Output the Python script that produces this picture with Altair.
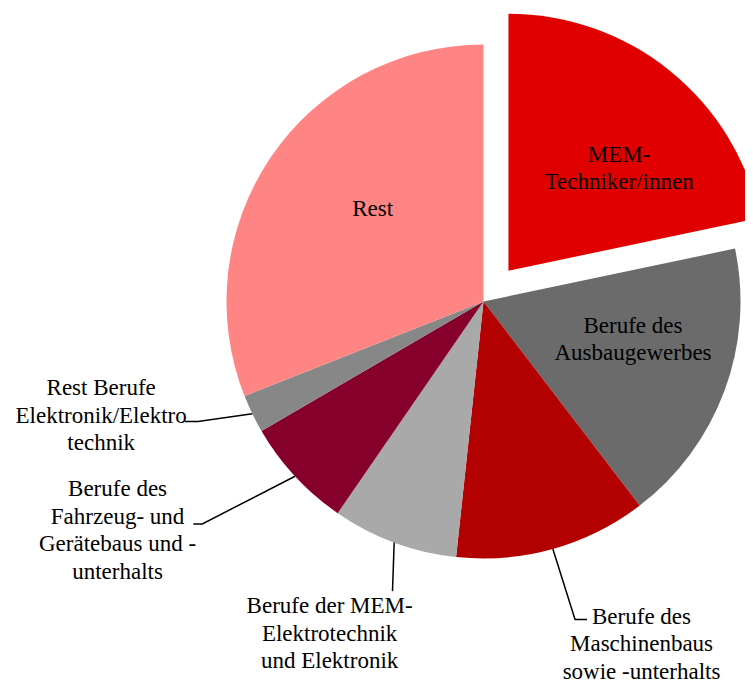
import altair as alt
import numpy as np
import pandas as pd

# ---- data -------------------------------------------------------------
categories = [
    "MEM-Techniker/innen",
    "Berufe des Ausbaugewerbes",
    "Berufe des Maschinenbaus sowie -unterhalts",
    "Berufe der MEM-Elektrotechnik und Elektronik",
    "Berufe des Fahrzeug- und Gerätebaus und -unterhalts",
    "Rest Berufe Elektronik/Elektrotechnik",
    "Rest",
]
label_texts = [
    "MEM-\nTechniker/innen",
    "Berufe des\nAusbaugewerbes",
    "Berufe des\nMaschinenbaus\nsowie -unterhalts",
    "Berufe der MEM-\nElektrotechnik\nund Elektronik",
    "Berufe des\nFahrzeug- und\nGerätebaus und -\nunterhalts",
    "Rest Berufe\nElektronik/Elektro\ntechnik",
    "Rest",
]
shares = [21.7, 17.9, 12.1, 7.9, 7.0, 2.4, 31.0]
colors = ["#E00000", "#6B6B6B", "#B30000", "#A9A9A9", "#85002B", "#878787", "#FF8585"]
exploded = [True, False, False, False, False, False, False]

# ---- layout (label placement, polar, relative to the slice's centre) --
label_angle_shift = [8.2, -6.0, -9.1, 4.5, 10.8, 9.3, 5.7]      # degrees from slice mid
label_radius = [150.7, 154.3, 377.3, 366.3, 431.7, 399.0, 144.5]
has_leader = [False, False, True, True, True, True, False]
leader_angle_shift = [0, 0, -0.4, -2.9, 4.5, 3.1, 0]
leader_radius = [0, 0, 330.9, 303.6, 358.5, 309.7, 0]
leader_tail = [0, 0, 12, 0, -9, -13, 0]

W, H = 737, 675
CX, CY = 475.5, 293.5
R = 257
EXPLODE = 39.6
FONT = "Liberation Serif"
FS = 23
LH = 27.5

df = pd.DataFrame({"category": categories, "share": shares, "exploded": exploded})
df["end"] = df["share"].cumsum()
df["start"] = df["end"] - df["share"]
df["mid_deg"] = (df["start"] + df["end"]) / 2 * 3.6


def polar(cx, cy, ang_deg, r):
    a = np.deg2rad(ang_deg)
    return cx + r * np.sin(a), cy - r * np.cos(a)


# centre of each slice (exploded slices pushed out along their mid angle)
centres = [
    polar(CX, CY, m, EXPLODE) if e else (CX, CY)
    for m, e in zip(df["mid_deg"], df["exploded"])
]

theta_scale = alt.Scale(domain=[0, 100], range=[0, 2 * np.pi])
color_scale = alt.Scale(domain=categories, range=colors)

layers = []
for i, (cx, cy) in enumerate(centres):
    sub = df.iloc[[i]]
    layers.append(
        alt.Chart(sub)
        .mark_arc(outerRadius=R)
        .encode(
            theta=alt.Theta("start:Q", scale=theta_scale, stack=None),
            theta2="end:Q",
            color=alt.Color("category:N", scale=color_scale, legend=None),
            x=alt.value(float(cx)),
            y=alt.value(float(cy)),
        )
    )

# labels (block centred on its anchor point)
lab_rows = []
for i in range(len(categories)):
    cx, cy = centres[i]
    lx, ly = polar(cx, cy, df["mid_deg"][i] + label_angle_shift[i], label_radius[i])
    n_lines = label_texts[i].count("\n") + 1
    ly = ly - (n_lines - 1) * LH / 2
    lab_rows.append({"category": categories[i], "label": label_texts[i], "lx": lx, "ly": ly})
labels = pd.DataFrame(lab_rows)

text_layer = (
    alt.Chart(labels)
    .mark_text(
        font=FONT,
        fontSize=FS,
        lineBreak="\n",
        lineHeight=LH,
        align="center",
        baseline="middle",
        color="#000000",
    )
    .encode(
        x=alt.X("lx:Q", scale=None, axis=None),
        y=alt.Y("ly:Q", scale=None, axis=None),
        text="label:N",
    )
)

# leader lines
lead_rows = []
for i in range(len(categories)):
    if not has_leader[i]:
        continue
    m = df["mid_deg"][i]
    sx, sy = polar(CX, CY, m, R)
    ex, ey = polar(CX, CY, m + leader_angle_shift[i], leader_radius[i])
    pts = [(sx, sy), (ex, ey), (ex + leader_tail[i], ey)]
    for k, (px, py) in enumerate(pts):
        lead_rows.append({"category": categories[i], "seq": k, "px": px, "py": py})
leaders = pd.DataFrame(lead_rows)

leader_layer = (
    alt.Chart(leaders)
    .mark_line(color="#000000", strokeWidth=1.5)
    .encode(
        x=alt.X("px:Q", scale=None, axis=None),
        y=alt.Y("py:Q", scale=None, axis=None),
        detail="category:N",
        order=alt.Order("seq:Q"),
    )
)

chart = (
    alt.layer(*layers, leader_layer, text_layer)
    .properties(width=W, height=H, autosize="none", padding=0, background="#FFFFFF")
    .configure_view(strokeWidth=0)
)

chart.save("out.html", embed_options={"renderer": "svg", "actions": False})
